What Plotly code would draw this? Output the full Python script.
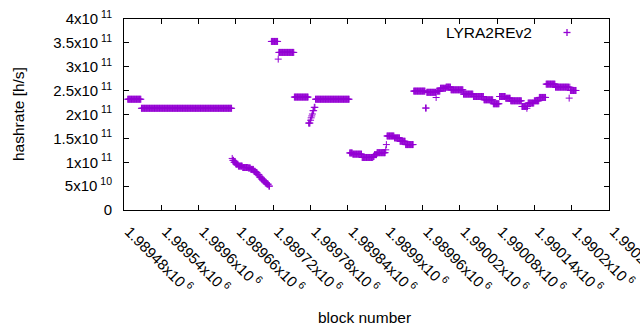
import plotly.graph_objects as go

# ---- data: constant-hashrate runs (first block, last block, hashrate in h/s)
run_first = [1989486, 1989508,
             1989654, 1989655, 1989657, 1989660, 1989664, 1989671, 1989680, 1989684,
             1989689, 1989692, 1989695, 1989698, 1989701, 1989704, 1989707, 1989710, 1989713,
             1989717, 1989728, 1989729, 1989754,
             1989777, 1989780, 1989781, 1989782, 1989783, 1989784, 1989786,
             1989788, 1989843, 1989848, 1989863, 1989881, 1989883, 1989887, 1989901, 1989902,
             1989903, 1989915, 1989924, 1989933,
             1989946, 1989965, 1989967, 1989982, 1989983, 1989989, 1989998, 1990006,
             1990026, 1990042, 1990059, 1990074, 1990084, 1990094, 1990102,
             1990120, 1990128, 1990129, 1990130, 1990140, 1990148,
             1990159, 1990174, 1990196, 1990197, 1990198]
run_last = [1989507, 1989653,
            1989654, 1989656, 1989659, 1989663, 1989670, 1989679, 1989683, 1989688,
            1989691, 1989694, 1989697, 1989700, 1989703, 1989706, 1989709, 1989712, 1989714,
            1989727, 1989728, 1989753, 1989776,
            1989779, 1989780, 1989781, 1989782, 1989783, 1989785, 1989787,
            1989842, 1989847, 1989862, 1989880, 1989882, 1989886, 1989900, 1989901, 1989902,
            1989914, 1989923, 1989932, 1989945,
            1989964, 1989966, 1989981, 1989982, 1989988, 1989997, 1990005, 1990025,
            1990041, 1990058, 1990073, 1990083, 1990093, 1990101, 1990119,
            1990127, 1990128, 1990129, 1990139, 1990147, 1990158,
            1990173, 1990195, 1990196, 1990197, 1990207]
run_rate = [2.32e11, 2.13e11,
            1.08e11, 1.04e11, 1.00e11, 0.96e11, 0.92e11, 0.89e11, 0.88e11, 0.85e11,
            0.81e11, 0.78e11, 0.74e11, 0.69e11, 0.65e11, 0.61e11, 0.57e11, 0.54e11, 0.50e11,
            3.53e11, 3.16e11, 3.30e11, 2.365e11,
            1.82e11, 1.88e11, 1.93e11, 1.97e11, 2.01e11, 2.08e11, 2.15e11,
            2.32e11, 1.195e11, 1.17e11, 1.10e11, 1.12e11, 1.16e11, 1.20e11, 1.26e11, 1.37e11,
            1.55e11, 1.51e11, 1.44e11, 1.37e11,
            2.49e11, 2.135e11, 2.465e11, 2.356e11, 2.49e11, 2.55e11, 2.573e11, 2.517e11,
            2.427e11, 2.377e11, 2.308e11, 2.225e11, 2.377e11, 2.34e11, 2.287e11,
            2.168e11, 2.13e11, 2.168e11, 2.24e11, 2.287e11, 2.357e11,
            2.636e11, 2.573e11, 2.343e11, 2.573e11, 2.503e11]

x_tick_vals = [1989480, 1989540, 1989600, 1989660, 1989720, 1989780, 1989840,
               1989900, 1989960, 1990020, 1990080, 1990140, 1990200, 1990260]
x_tick_text = ["1.98948", "1.98954", "1.9896", "1.98966", "1.98972", "1.98978", "1.98984",
               "1.9899", "1.98996", "1.99002", "1.99008", "1.99014", "1.9902", "1.99026"]
y_tick_vals = [0, 5e10, 1e11, 1.5e11, 2e11, 2.5e11, 3e11, 3.5e11, 4e11]
y_tick_text = ["0", "5x10", "1x10", "1.5x10", "2x10", "2.5x10", "3x10", "3.5x10", "4x10"]
y_tick_exp = ["", "10", "11", "11", "11", "11", "11", "11", "11"]

series_name = "LYRA2REv2"
color = "#9400d3"

blocks, rates = [], []
for a, b, r in zip(run_first, run_last, run_rate):
    for blk in range(a, b + 1):
        blocks.append(blk)
        rates.append(r)

FONT = "Liberation Sans, Arial, sans-serif"
NB = "\u00a0"

fig = go.Figure()
fig.add_trace(go.Scatter(
    x=blocks, y=rates, mode="markers", name=series_name, showlegend=False,
    marker=dict(symbol="cross-thin", size=5, color=color,
                line=dict(color=color, width=1)),
))

L, R, T, B = 124, 31, 19, 120
W, H = 640, 330
pw, ph = W - L - R, H - T - B

def px(xp):
    return (xp - L) / pw

def py(yp):
    return (H - B - yp) / ph

axis_common = dict(showline=True, mirror="ticks", linecolor="black", linewidth=1,
                   ticks="inside", ticklen=5, tickcolor="black", tickwidth=1,
                   showgrid=False, zeroline=False, automargin=False,
                   ticklabeloverflow="allow",
                   tickfont=dict(family=FONT, size=15, color="black"))

fig.update_layout(
    width=W, height=H, margin=dict(l=L, r=R, t=T, b=B, autoexpand=False),
    paper_bgcolor="white", plot_bgcolor="white", showlegend=False,
    font=dict(family=FONT, size=15, color="black"),
    xaxis=dict(range=[x_tick_vals[0] - 0.05, x_tick_vals[-1] + 0.05], tickmode="array",
               tickvals=x_tick_vals,
               ticktext=[t + "x10<sup>" + NB + "6</sup>" for t in x_tick_text],
               tickangle=45, ticklabelstandoff=6, ticklabelshift=5, **axis_common),
    yaxis=dict(range=[y_tick_vals[0], y_tick_vals[-1]], tickmode="array",
               tickvals=y_tick_vals,
               ticktext=[t + ("<sup>" + NB + e + "</sup>" if e else "")
                         for t, e in zip(y_tick_text, y_tick_exp)],
               ticklabelstandoff=8, **axis_common),
    annotations=[
        dict(text="block number", xref="paper", yref="paper", x=px(364.5), y=py(317),
             xanchor="center", yanchor="middle", showarrow=False,
             font=dict(family=FONT, size=15.5, color="black")),
        dict(text="hashrate [h/s]", xref="paper", yref="paper", x=px(18), y=py(114),
             xanchor="center", yanchor="middle", showarrow=False, textangle=-90,
             font=dict(family=FONT, size=15.5, color="black")),
        dict(text=series_name, xref="paper", yref="paper", x=px(534), y=py(32),
             xanchor="right", yanchor="middle", showarrow=False,
             font=dict(family=FONT, size=15.5, color="black")),
    ],
    shapes=[
        dict(type="line", xref="paper", yref="paper", x0=px(563.5), x1=px(570.5),
             y0=py(32.5), y1=py(32.5), line=dict(color=color, width=1.3)),
        dict(type="line", xref="paper", yref="paper", x0=px(567), x1=px(567),
             y0=py(29), y1=py(36), line=dict(color=color, width=1.3)),
    ],
)

fig.write_html("out.html", config={"displayModeBar": False},
               post_script="document.body.style.margin='0px';"
                           "document.body.style.overflow='hidden';")
